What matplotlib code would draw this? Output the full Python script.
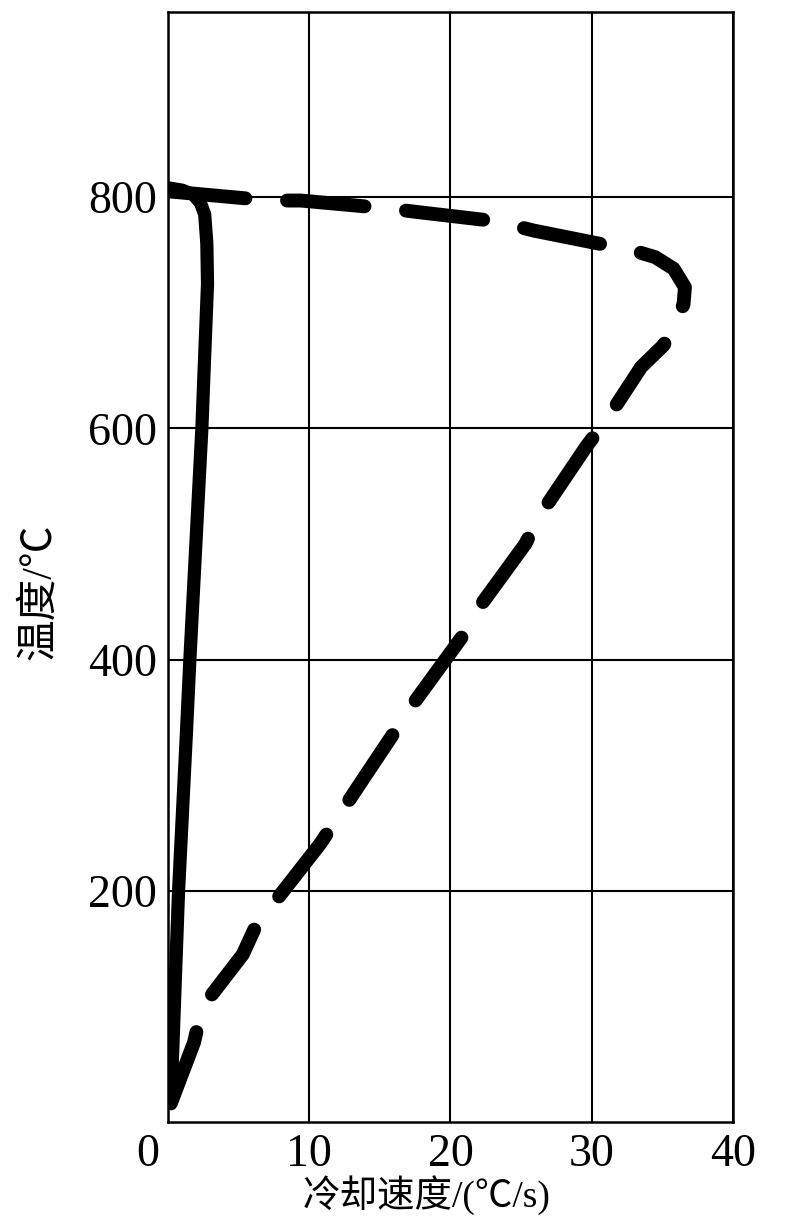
import matplotlib
matplotlib.use('Agg')
import matplotlib.pyplot as plt
from matplotlib.transforms import ScaledTranslation

# ---- data ----
solid_rate = [0.0, 1.0, 1.8, 2.3, 2.6, 2.75, 2.8, 2.55, 2.4, 1.55, 1.3, 0.75, 0.2]
solid_temp = [808, 806, 802, 795, 785, 760, 725, 648, 600, 400, 335, 200, 16]

dash_rate = [0.0, 7.2, 9.4, 15.7, 17.7, 23.3, 25.9, 30.4, 32.6, 34.5, 35.8, 36.6,
             36.5, 35.1, 33.5, 31.2, 29.6, 26.4, 25.3, 22.2, 20.9, 17.5, 14.0,
             10.8, 6.2, 5.3, 2.4, 1.85, 0.2]
dash_temp = [805, 797, 797, 790, 787, 779, 771, 760, 755, 748, 738, 722,
             707, 672, 653, 610, 584, 526, 500, 448, 421, 364, 300,
             241, 169, 145, 99, 69, 16]

x_ticks = [0, 10, 20, 30, 40]
y_ticks = [200, 400, 600, 800]
x_label = '冷却速度/(℃/s)'
y_label = '温度/℃'

fonts = ['Liberation Serif', 'Noto Sans CJK SC', 'DejaVu Sans']
plt.rcParams['font.family'] = fonts

fig = plt.figure(figsize=(7.98, 12.21), dpi=100)
ax = fig.add_axes([0.2105, 0.0811, 0.708, 0.909])

ax.plot(solid_rate, solid_temp, color='black', lw=9.5,
        solid_capstyle='butt', solid_joinstyle='round')
ax.plot(dash_rate, dash_temp, color='black', lw=10, linestyle=(0, (5.6, 3.0)),
        dash_capstyle='round', dash_joinstyle='round')

ax.set_xlim(0, 40)
ax.set_ylim(0, 960)
ax.set_xticks(x_ticks)
ax.set_yticks(y_ticks)
ax.set_xticklabels([str(v) for v in x_ticks])
ax.set_yticklabels([str(v) for v in y_ticks])
ax.grid(True, color='black', lw=1.5)
ax.set_axisbelow(True)
for s in ax.spines.values():
    s.set_linewidth(1.8)
    s.set_color('black')

ax.tick_params(axis='both', length=0, labelsize=33)
ax.tick_params(axis='x', pad=8)
ax.tick_params(axis='y', pad=8)

# shift the "0" label slightly to the left, as in the reference
t0 = ax.xaxis.get_major_ticks()[0].label1
t0.set_transform(t0.get_transform() + ScaledTranslation(-0.2, 0, fig.dpi_scale_trans))

ax.set_xlabel(x_label, fontsize=27, va='top')
ax.xaxis.set_label_coords(0.457, -0.048)
ax.set_ylabel(y_label, fontsize=30, va='center')
ax.yaxis.set_label_coords(-0.2265, 0.4775)

fig.savefig('out.png', dpi=100)
